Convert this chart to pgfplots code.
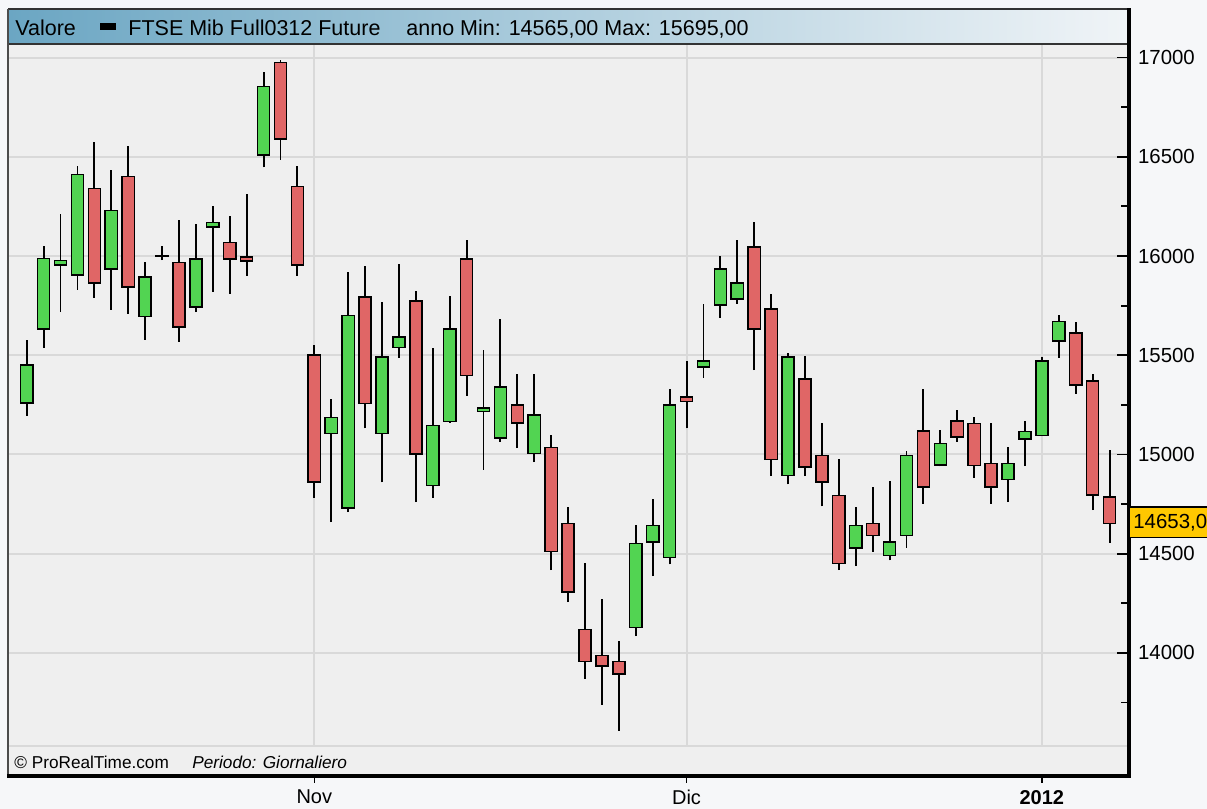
\documentclass[border=0pt]{standalone}
\usepackage{fontspec}
\setmainfont{Liberation Sans}
\usepackage{pgfplots}
\usepackage{pgfplotstable}
\pgfplotsset{compat=1.18}
\definecolor{pagebg}{HTML}{F6F7F9}
\definecolor{plotbg}{HTML}{EFEFEF}
\definecolor{gridc}{HTML}{D9D9D9}
\definecolor{gridd}{HTML}{ABABAB}
\definecolor{cgreen}{HTML}{52D452}
\definecolor{cred}{HTML}{E06666}
\definecolor{hdrL}{HTML}{6BA6C3}
\definecolor{hdrR}{HTML}{F0F4F7}
\definecolor{tagc}{HTML}{FFC800}
\pgfplotstableread{
x O H L C
0 15260 15575 15195 15450
1 15633 16050 15537 15987
2 15955 16213 15717 15977
3 15905 16452 15831 16411
4 16339 16573 15789 15863
5 15935 16432 15730 16228
6 16400 16553 15709 15843
7 15694 15969 15579 15895
8 15997 16049 15979 16000
9 15966 16179 15568 15643
10 15742 16159 15717 15986
11 16145 16251 15820 16169
12 16068 16200 15810 15986
13 15996 16311 15900 15974
14 16510 16928 16447 16854
15 16976 16986 16486 16590
16 16350 16452 15900 15954
17 15500 15554 14782 14862
18 15106 15280 14659 15185
19 14731 15918 14709 15700
20 15794 15949 15131 15258
21 15106 15767 14860 15490
22 15540 15961 15487 15591
23 15774 15826 14760 15003
24 14844 15534 14782 15146
25 15166 15797 15160 15633
26 15986 16080 15297 15399
27 15217 15524 14924 15235
28 15084 15685 15064 15341
29 15248 15403 15032 15158
30 15006 15403 14961 15198
31 15035 15099 14417 14510
32 14652 14736 14256 14308
33 14118 14454 13870 13956
34 13986 14271 13740 13935
35 13956 14058 13609 13895
36 14127 14644 14085 14552
37 14560 14778 14387 14642
38 14480 15332 14446 15248
39 15290 15473 15131 15267
40 15440 15756 15386 15470
41 15752 15999 15689 15935
42 15784 16080 15759 15865
43 16046 16170 15425 15633
44 15734 15806 14891 14975
45 14894 15512 14849 15492
46 15379 15495 14891 14936
47 14995 15160 14739 14862
48 14793 14978 14417 14451
49 14530 14736 14437 14642
50 14652 14837 14510 14592
51 14491 14865 14467 14560
52 14592 15017 14530 14995
53 15117 15332 14752 14835
54 14946 15121 14940 15054
55 15168 15222 15064 15087
56 15156 15190 14883 14944
57 14955 15160 14752 14835
58 14874 15039 14760 14955
59 15079 15171 14941 15116
60 15096 15492 15092 15470
61 15571 15705 15487 15671
62 15613 15666 15306 15351
63 15369 15403 14719 14795
64 14786 15025 14554 14653
}\candles
\begin{document}
\begin{tikzpicture}[x=1pt,y=1pt]
\path[use as bounding box, fill=pagebg] (0,0) rectangle (603.5,-404.5);
% header
\shade[left color=hdrL, right color=hdrR] (4,-4.5) rectangle (564.5,-22);
\pgfplotsset{candleaxis/.style={at={(4pt,-388pt)}, anchor=south west,
  width=560.5pt, height=366pt, scale only axis,
  xmin=-1.105, xmax=65.15, ymin=13380, ymax=17068}}
\begin{axis}[candleaxis,
  axis background/.style={fill=plotbg},
  axis line style={draw=none},
  ytick={14000,14500,...,17000},
  minor ytick={13750,14250,...,16750},
  scaled y ticks=false,
  ytick pos=right, yticklabel pos=right,
  tick align=inside,
  major tick length=6pt, minor tick length=4pt,
  every tick/.style={black, line width=0.9pt},
  ymajorgrids, xmajorgrids,
  major grid style={gridc, line width=1pt},
  xtick={17,39}, xticklabels={Nov,Dic},
  extra x ticks={60}, extra x tick labels={\textbf{2012}},
  extra x tick style={grid style={gridd, line width=1pt}, major tick length=0pt},
  xtick pos=bottom,
  x tick style={draw=none},
  xticklabel style={font=\fontsize{10}{12}\selectfont, yshift=-3.5pt},
  yticklabel style={font=\fontsize{10.2}{12}\selectfont, xshift=1pt,
    /pgf/number format/.cd, fixed, 1000 sep={}, assume math mode=true}]
\addplot[draw=none, mark=none, forget plot,
  error bars/.cd, y dir=plus, y explicit, error mark=none,
  error bar style={draw=black, line width=0.95pt}]
  table[x=x, y=L, y error plus expr=\thisrow{H}-\thisrow{L}] {\candles};
\end{axis}
\begin{axis}[candleaxis, hide axis, ybar stacked, bar width=0.72]
\addplot[fill=none, draw=none] table[x=x, y expr={min(\thisrow{O},\thisrow{C})}] {\candles};
\addplot[fill=cgreen, draw=black, line width=0.75pt] table[x=x, y expr={max(\thisrow{C}-\thisrow{O},0)}] {\candles};
\addplot[fill=cred, draw=black, line width=0.75pt] table[x=x, y expr={max(\thisrow{O}-\thisrow{C},0)}] {\candles};
\end{axis}
% footer
\fill[plotbg] (4.5,-373) rectangle (564,-387.5);
\draw[gridc, line width=1pt] (4,-373) -- (564.5,-373);
\node[anchor=west, inner sep=0, font=\fontsize{8.6}{10}\selectfont] at (7,-381) {\textcopyright\ ProRealTime.com};
\node[anchor=west, inner sep=0, font=\fontsize{8.6}{10}\selectfont\itshape] at (96,-381) {Periodo: Giornaliero};
% frame
\draw[black!80, line width=0.8pt] (4,-4.5) -- (564.5,-4.5);
\draw[black!80, line width=0.8pt] (4,-22) -- (564.5,-22);
\draw[black!70, line width=0.8pt] (4,-4.5) -- (4,-388);
\draw[black, line width=1.6pt] (564.5,-4.1) -- (564.5,-389);
\draw[black, line width=1.6pt] (3.6,-388) -- (565.3,-388);
% x ticks below
\foreach \xx in {157.17,343.29,520.95} \draw[black, line width=0.8pt] (\xx,-388) -- (\xx,-391.5);
% header text
\node[anchor=base west, inner sep=0, font=\fontsize{10.75}{12}\selectfont] at (7.5,-17.5) {Valore};
\fill[black] (50,-11.5) rectangle (58,-15);
\node[anchor=base west, inner sep=0, font=\fontsize{10.75}{12}\selectfont] at (64,-17.5) {FTSE Mib Full0312 Future};
\node[anchor=base west, inner sep=0, font=\fontsize{10.75}{12}\selectfont] at (203,-17.5) {anno Min: 14565,00 Max: 15695,00};
% price tag
\filldraw[fill=tagc, draw=black, line width=0.6pt] (564.5,-253.5) rectangle (610,-268.8);
\node[anchor=west, inner sep=0, font=\fontsize{10.2}{12}\selectfont] at (566.5,-261.5) {14653,00};
\end{tikzpicture}
\end{document}
